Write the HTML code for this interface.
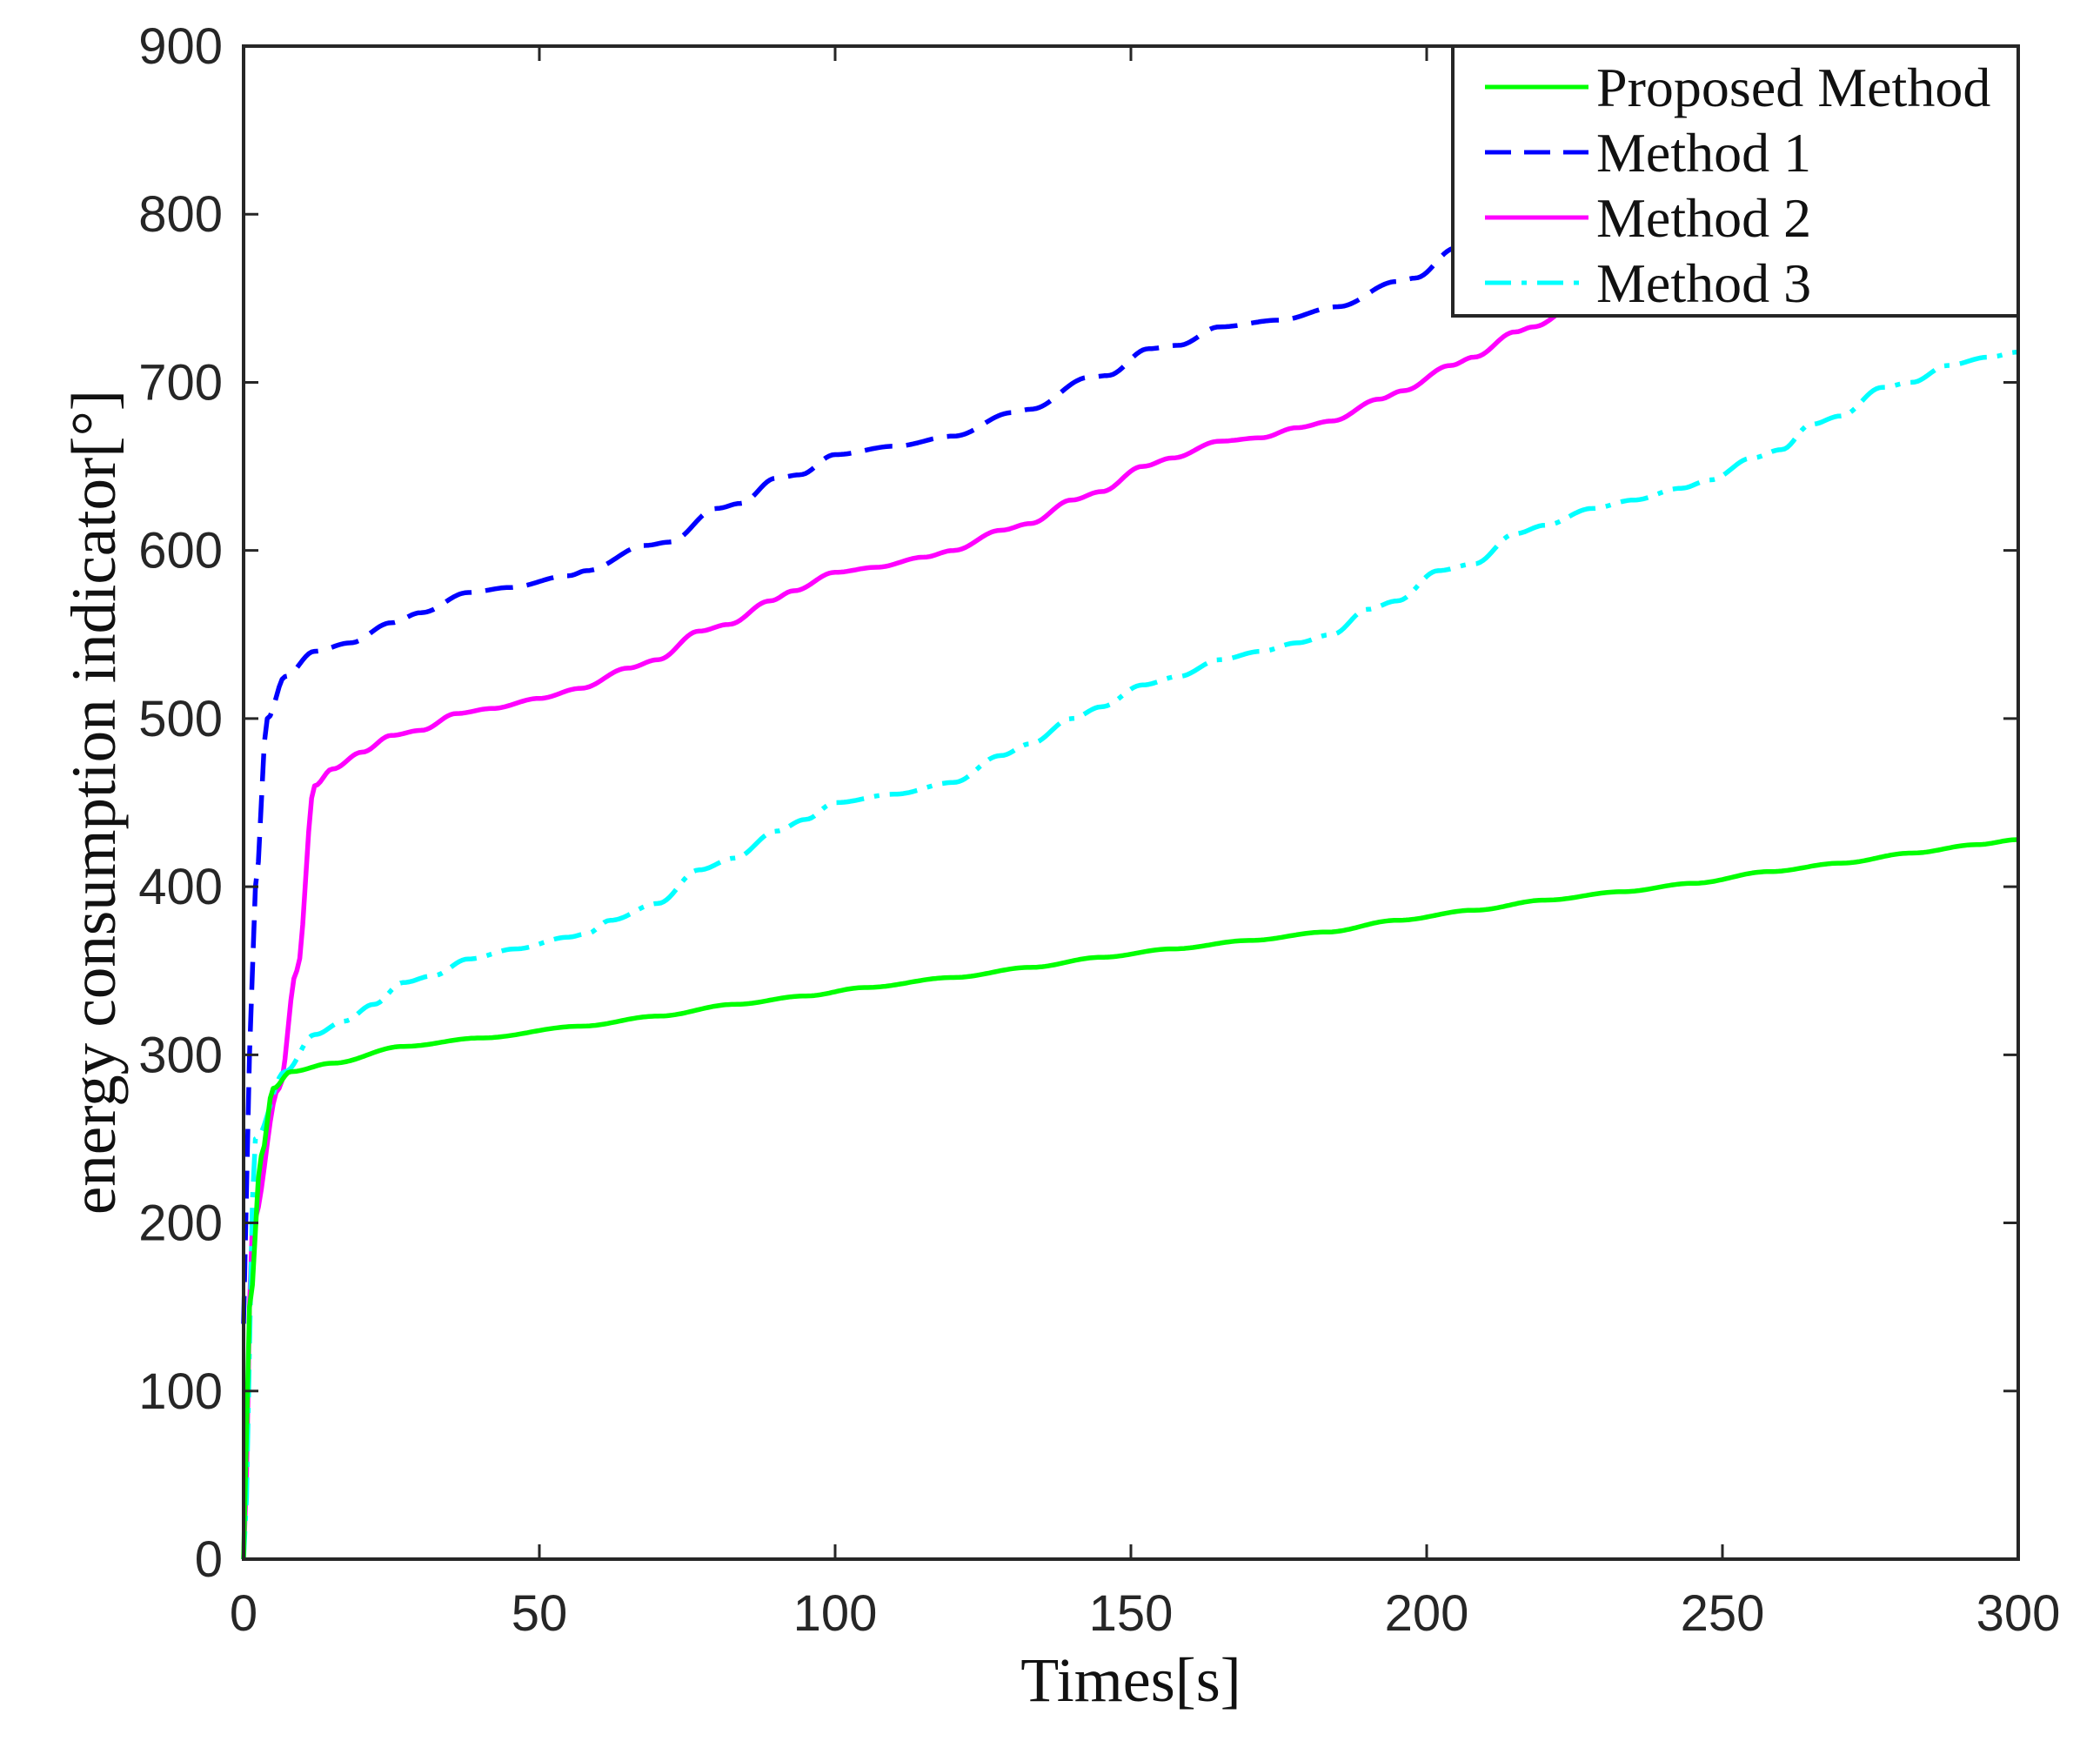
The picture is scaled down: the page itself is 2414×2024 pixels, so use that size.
<!DOCTYPE html>
<html><head><meta charset="utf-8"><style>
html,body{margin:0;padding:0;background:#fff;}
svg{display:block;}
</style></head><body>
<svg id="s" width="2414" height="2024" viewBox="0 0 2414 2024" xmlns="http://www.w3.org/2000/svg">
<rect width="2414" height="2024" fill="#fff"/>
<g id="lines" fill="none" stroke-width="5.5" stroke-linejoin="round"></g>
<g id="axes" stroke="#262626" stroke-width="4" fill="none"></g>
<g id="ticklabels" font-family="Liberation Sans, Arial, sans-serif" font-size="58" fill="#262626"></g>
<text x="1300" y="1955" font-family="Liberation Serif, serif" font-size="72" text-anchor="middle" fill="#111">Times[s]</text>
<text transform="translate(132,922) rotate(-90)" font-family="Liberation Serif, serif" font-size="73" text-anchor="middle" fill="#111">energy consumption indicator[°]</text>
<g id="legend"></g>
</svg>
<script>
var L=280,R=2320,T=53,B=1792;
function X(t){return L+(R-L)*t/300;}
function Y(v){return B-(B-T)*v/900;}
var ns="http://www.w3.org/2000/svg";
function el(p,n,a){var e=document.createElementNS(ns,n);for(var k in a)e.setAttribute(k,a[k]);p.appendChild(e);return e;}
function pts(d){var out=[];for(var i=0;i<d.length-1;i++){var a=d[i],b=d[i+1];var n=Math.max(1,Math.ceil((b[0]-a[0])*2));for(var j=0;j<n;j++){var t=a[0]+(b[0]-a[0])*j/n;var u=j/n;var s=(1-Math.cos(Math.PI*u))/2;var v=a[1]+(b[1]-a[1])*s;out.push(X(t).toFixed(1)+","+Y(v).toFixed(1));}}var z=d[d.length-1];out.push(X(z[0]).toFixed(1)+","+Y(z[1]).toFixed(1));return out.join(" ");}
var green=[[0,0],[1,150],[3,240],[5,280],[8,290],[15,295],[27,305],[40,310],[57,317],[70,323],[83,330],[95,335],[105,340],[120,346],[133,352],[145,358],[157,363],[170,368],[183,373],[195,380],[208,386],[220,392],[233,397],[245,402],[258,409],[270,414],[282,420],[293,425],[300,428]];
var blue=[[0,140],[1,300],[2,400],[4,500],[7,525],[12,540],[18,545],[25,557],[30,563],[38,575],[45,578],[55,585],[58,588],[68,603],[72,605],[80,625],[84,628],[90,643],[94,645],[100,657],[110,662],[120,668],[130,682],[133,684],[143,703],[146,704],[153,720],[158,722],[165,733],[175,737],[185,745],[195,760],[198,762],[205,780],[230,790],[260,820],[300,850]];
var mag=[[0,0],[1.5,200],[6,280],[9,350],[12,460],[15,470],[20,480],[25,490],[30,493],[36,503],[42,506],[50,512],[57,518],[65,530],[70,535],[77,552],[82,556],[89,570],[93,576],[100,587],[107,590],[115,596],[120,600],[128,612],[133,616],[140,630],[145,635],[152,650],[157,655],[165,665],[172,667],[178,673],[184,677],[192,690],[196,695],[204,710],[208,715],[215,730],[218,733],[225,745],[260,770],[300,800]];
var cyan=[[0,0],[2,250],[7,290],[12,312],[17,320],[22,330],[27,343],[32,347],[38,357],[46,363],[55,370],[58,372],[62,380],[70,390],[77,410],[83,417],[90,433],[95,440],[100,450],[110,455],[120,462],[128,478],[133,485],[140,500],[145,507],[152,520],[158,525],[165,535],[172,540],[178,545],[184,550],[190,565],[195,570],[202,588],[208,592],[215,610],[220,615],[228,625],[235,630],[243,637],[248,642],[255,655],[260,660],[265,675],[270,680],[277,697],[282,700],[288,710],[295,715],[300,718]];
var g=document.getElementById("lines");
el(g,"polyline",{points:pts(blue),stroke:"#0000ff","stroke-dasharray":"32 16"});
el(g,"polyline",{points:pts(mag),stroke:"#ff00ff"});
el(g,"polyline",{points:pts(cyan),stroke:"#00ffff","stroke-dasharray":"32 12 6 12"});
el(g,"polyline",{points:pts(green),stroke:"#00ff00"});
var a=document.getElementById("axes");
el(a,"rect",{x:L,y:T,width:R-L,height:B-T});
var tl=document.getElementById("ticklabels");
for(var t=0;t<=300;t+=50){var x=X(t);el(a,"line",{x1:x,y1:B,x2:x,y2:B-17,"stroke-width":3});el(a,"line",{x1:x,y1:T,x2:x,y2:T+17,"stroke-width":3});var e=el(tl,"text",{x:x,y:1874,"text-anchor":"middle"});e.textContent=t;}
for(var v=0;v<=900;v+=100){var y=Y(v);el(a,"line",{x1:L,y1:y,x2:L+17,y2:y,"stroke-width":3});el(a,"line",{x1:R,y1:y,x2:R-17,y2:y,"stroke-width":3});var e=el(tl,"text",{x:256,y:y+20,"text-anchor":"end"});e.textContent=v;}
var lg=document.getElementById("legend");
el(lg,"rect",{x:1670,y:53,width:650,height:310,fill:"#fff",stroke:"#262626","stroke-width":4});
var items=[["Proposed Method","#00ff00",null],["Method 1","#0000ff","30 15"],["Method 2","#ff00ff",null],["Method 3","#00ffff","30 12 6 12"]];
for(var i=0;i<4;i++){var yy=100+i*75;var o={x1:1707,y1:yy,x2:1826,y2:yy,stroke:items[i][1],"stroke-width":5};if(items[i][2])o["stroke-dasharray"]=items[i][2];el(lg,"line",o);var e=el(lg,"text",{x:1835,y:yy+22,"font-family":"Liberation Serif, serif","font-size":64,fill:"#111"});e.textContent=items[i][0];}
</script>
</body></html>
